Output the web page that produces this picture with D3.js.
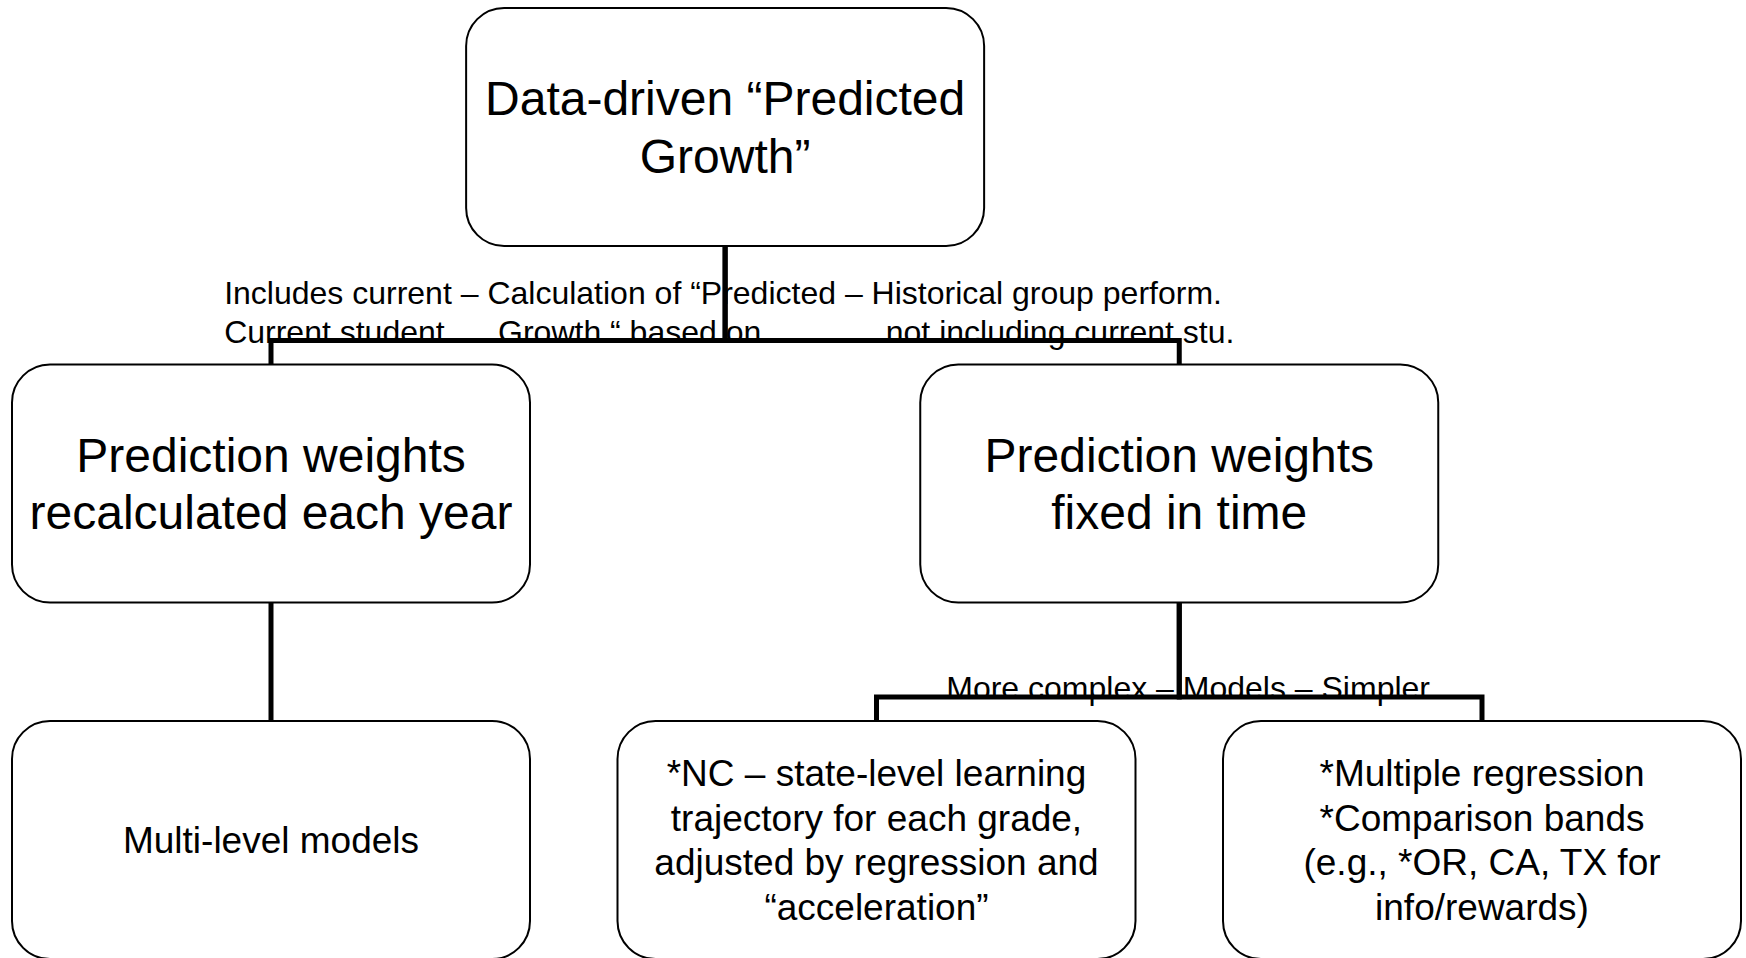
<!DOCTYPE html>
<html>
<head>
<meta charset="utf-8">
<script src="https://cdn.jsdelivr.net/npm/d3@7"></script>
<style>
  body { margin: 0; background: #fff; }
  svg { display: block; font-family: "Liberation Sans", Arial, sans-serif; }
  .box { fill: #fff; stroke: #000; stroke-width: 2; }
  .link { fill: none; stroke: #000; stroke-width: 5; stroke-linejoin: miter; }
  .branch-label { white-space: pre; }
</style>
</head>
<body>
<div id="chart"></div>
<script>
// tree nodes
const nodeIds = ['root', 'recalc', 'fixed', 'multi', 'nc', 'mult'];
const nodeParents = [null, 'root', 'root', 'recalc', 'fixed', 'fixed'];
const nodeLines = [
  ['Data-driven “Predicted', 'Growth”'],
  ['Prediction weights', 'recalculated each year'],
  ['Prediction weights', 'fixed in time'],
  ['Multi-level models'],
  ['*NC – state-level learning', 'trajectory for each grade,', 'adjusted by regression and', '“acceleration”'],
  ['*Multiple regression', '*Comparison bands', '(e.g., *OR, CA, TX for', 'info/rewards)'],
];

// text sitting on the branch lines
const branchLabelNodes = ['root', 'fixed'];
const branchLabelLines = [
  ['Includes current – Calculation of “Predicted – Historical group perform.',
   'Current student      Growth “ based on              not including current stu.'],
  ['More complex – Models – Simpler'],
];

const width = 1746;
const height = 958;
const boxW = 518;
const boxH = 238;
const radius = 38;
const elbowGap = 24;
const fontByDepth = [48, 48, 37];
const labelFont = 32;
const labelOffset = [-501, -233];

const table = nodeIds.map((id, i) => ({ id, parent: nodeParents[i], lines: nodeLines[i] }));
const root = d3.stratify()
  .id(d => d.id)
  .parentId(d => d.parent)(table);

d3.cluster()
  .size([1, 1])
  .separation(() => 1)(root);

// leftmost / rightmost leaf centres
const x = d3.scaleLinear()
  .domain(d3.extent(root.leaves(), d => d.x))
  .range([271, 1482]);
const y = d3.scaleLinear().domain([0, 2]).range([8, 721]);

const svg = d3.select('#chart').append('svg')
  .attr('width', width)
  .attr('height', height);

const nodes = root.descendants();

const node = svg.selectAll('.node')
  .data(nodes)
  .enter()
  .append('g')
    .attr('class', 'node')
    .attr('transform', d => `translate(${x(d.x) - boxW / 2},${y(d.depth)})`);

node.append('rect')
  .attr('class', 'box')
  .attr('width', boxW)
  .attr('height', boxH)
  .attr('rx', radius)
  .attr('ry', radius);

node.each(function (d) {
  const size = fontByDepth[d.depth];
  const lh = size * 1.2;
  const lines = d.data.lines;
  d3.select(this).selectAll('text')
    .data(lines)
    .enter()
    .append('text')
      .attr('x', boxW / 2)
      .attr('y', (t, i) => boxH / 2 + (i - (lines.length - 1) / 2) * lh + size * 0.35)
      .attr('text-anchor', 'middle')
      .attr('font-size', size)
      .attr('fill', '#000')
      .text(t => t);
});

// branch labels go under the connector lines
branchLabelNodes.forEach((id, k) => {
  const parent = nodes.find(n => n.id === id);
  const elbowY = y(parent.depth + 1) - elbowGap;
  const lines = branchLabelLines[k];
  svg.append('g').selectAll('text')
    .data(lines)
    .enter()
    .append('text')
      .attr('class', 'branch-label')
      .attr('xml:space', 'preserve')
      .attr('x', x(parent.x) + labelOffset[k])
      .attr('y', (t, i) => elbowY + 2 - (lines.length - 1 - i) * labelFont * 1.2)
      .attr('font-size', labelFont)
      .attr('fill', '#000')
      .text(t => t);
});

svg.selectAll('.link')
  .data(root.links())
  .enter()
  .append('path')
    .attr('class', 'link')
    .attr('d', (l) => {
      const px = x(l.source.x);
      const cx = x(l.target.x);
      const top = y(l.target.depth);
      const elbowY = top - elbowGap;
      return `M${px},${y(l.source.depth) + boxH}V${elbowY}H${cx}V${top}`;
    });
</script>
</body>
</html>
